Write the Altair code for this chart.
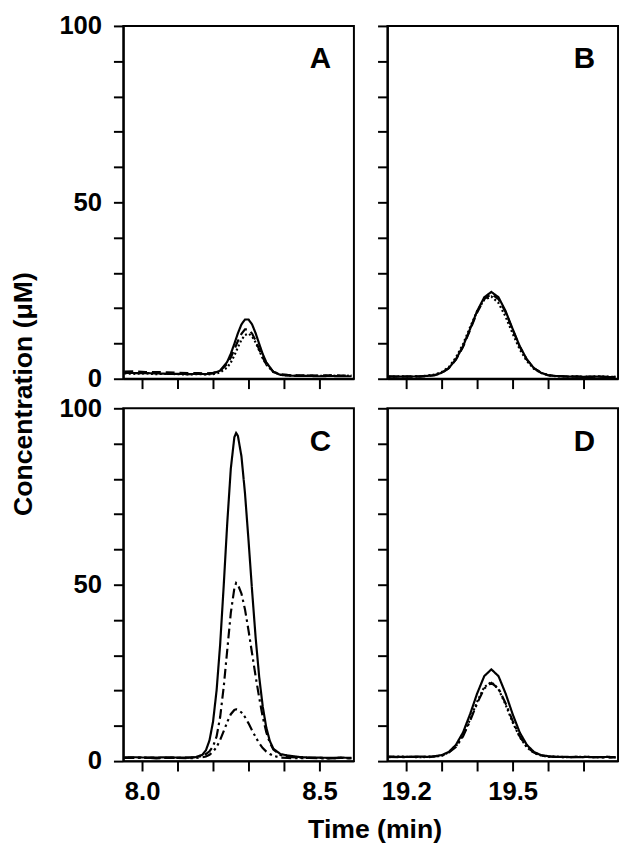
import altair as alt
import pandas as pd

# ---------------- data ----------------
A_time = [7.95, 7.98, 8.01, 8.04, 8.07, 8.10, 8.13, 8.16, 8.18, 8.20, 8.22, 8.24, 8.25, 8.26,
          8.27, 8.28, 8.29, 8.30, 8.31, 8.32, 8.33, 8.34, 8.35, 8.37, 8.39, 8.41, 8.44, 8.47,
          8.50, 8.53, 8.56, 8.59]
A_solid = [1.7, 1.6, 1.6, 1.5, 1.4, 1.4, 1.3, 1.4, 1.3, 1.5, 2.3, 4.8, 7.1, 9.9, 12.9, 15.4,
           16.8, 16.8, 15.4, 12.9, 9.9, 7.0, 4.7, 1.9, 1.1, 0.9, 0.8, 0.8, 0.7, 0.8, 0.7, 0.7]
A_dashed = [2.0, 2.1, 1.9, 1.9, 1.8, 1.7, 1.6, 1.6, 1.5, 1.7, 2.3, 4.2, 6.0, 8.3, 10.7, 12.7,
            14.0, 14.0, 12.8, 10.8, 8.3, 6.0, 4.1, 2.0, 1.3, 1.1, 1.0, 1.0, 0.9, 1.0, 0.9, 0.9]
A_dotted = [1.5, 1.4, 1.5, 1.3, 1.4, 1.3, 1.2, 1.3, 1.2, 1.3, 1.8, 3.2, 4.6, 6.6, 8.9, 11.0,
            12.4, 12.8, 12.0, 10.3, 8.0, 5.8, 4.0, 1.9, 1.2, 0.9, 0.8, 0.9, 0.8, 0.9, 0.8, 0.9]

B_time = [19.15, 19.18, 19.21, 19.24, 19.26, 19.28, 19.30, 19.32, 19.34, 19.36, 19.38, 19.40,
          19.42, 19.44, 19.46, 19.48, 19.50, 19.52, 19.54, 19.56, 19.58, 19.60, 19.62, 19.65,
          19.68, 19.71, 19.74, 19.77, 19.79]
B_solid = [0.6, 0.6, 0.6, 0.7, 0.8, 1.0, 1.7, 3.0, 5.5, 9.2, 14.1, 19.2, 23.1, 24.6, 23.1, 19.2,
           14.1, 9.2, 5.5, 3.0, 1.7, 1.0, 0.8, 0.6, 0.6, 0.5, 0.6, 0.5, 0.5]
B_dashed = [0.7, 0.6, 0.7, 0.6, 0.8, 1.0, 1.6, 3.0, 5.4, 9.0, 13.8, 18.8, 22.6, 24.0, 22.6, 18.9,
            13.9, 9.1, 5.4, 3.0, 1.7, 1.0, 0.8, 0.7, 0.6, 0.6, 0.6, 0.5, 0.6]
B_dotted = [0.5, 0.7, 0.6, 0.7, 0.9, 1.2, 1.9, 3.3, 6.0, 9.8, 14.6, 19.2, 22.4, 23.3, 21.5, 17.6,
            12.8, 8.3, 5.0, 2.8, 1.6, 1.0, 0.7, 0.6, 0.7, 0.5, 0.7, 0.6, 0.5]

C_time = [7.95, 7.98, 8.01, 8.04, 8.07, 8.10, 8.13, 8.15, 8.17, 8.18, 8.19, 8.20, 8.21, 8.22,
          8.23, 8.24, 8.25, 8.26, 8.265, 8.27, 8.28, 8.29, 8.30, 8.31, 8.32, 8.33, 8.34, 8.35,
          8.36, 8.37, 8.39, 8.41, 8.44, 8.47, 8.50, 8.53, 8.56, 8.59]
C_solid = [1.0, 1.1, 1.0, 1.0, 1.1, 1.0, 1.0, 1.1, 1.8, 3.1, 5.9, 11.2, 20.1, 33.1, 49.7, 67.5,
           82.9, 91.8, 93.0, 92.2, 86.4, 75.9, 62.5, 48.3, 35.0, 23.9, 15.5, 9.5, 5.7, 3.5,
           2.0, 1.6, 1.2, 1.0, 1.0, 0.9, 1.0, 0.9]
C_dashdot = [1.0, 1.0, 0.9, 1.0, 0.9, 0.9, 1.0, 1.1, 1.5, 2.0, 2.8, 4.2, 7.0, 12.5, 21.0, 31.5,
             42.0, 49.0, 50.5, 50.0, 47.5, 43.0, 37.0, 30.5, 24.0, 18.0, 12.5, 8.2, 5.2, 3.3,
             1.7, 1.2, 1.0, 0.9, 0.9, 0.8, 0.9, 0.8]
C_dashdotdot = [0.9, 0.9, 1.0, 0.8, 0.9, 0.9, 0.8, 0.9, 1.1, 1.3, 1.8, 2.7, 4.0, 6.0, 8.5, 11.1,
                13.3, 14.5, 14.7, 14.6, 13.8, 12.5, 10.7, 8.7, 6.8, 5.1, 3.7, 2.7, 2.0, 1.5,
                1.0, 0.9, 0.8, 0.9, 0.8, 0.8, 0.9, 0.8]

D_time = [19.15, 19.18, 19.21, 19.24, 19.26, 19.28, 19.30, 19.32, 19.34, 19.36, 19.38, 19.40,
          19.42, 19.44, 19.46, 19.48, 19.50, 19.52, 19.54, 19.56, 19.58, 19.60, 19.62, 19.65,
          19.68, 19.71, 19.74, 19.77, 19.79]
D_solid = [1.3, 1.2, 1.2, 1.3, 1.2, 1.4, 1.7, 2.6, 4.6, 8.1, 13.3, 19.2, 24.1, 26.0, 24.1, 19.2,
           13.3, 8.1, 4.6, 2.6, 1.7, 1.4, 1.2, 1.2, 1.1, 1.2, 1.1, 1.2, 1.1]
D_dashdot = [1.2, 1.1, 1.2, 1.2, 1.1, 1.3, 1.6, 2.4, 4.0, 7.0, 11.4, 16.4, 20.6, 22.2, 20.6, 16.4,
             11.4, 7.0, 4.0, 2.4, 1.6, 1.3, 1.2, 1.1, 1.2, 1.1, 1.1, 1.0, 1.1]
D_dotted = [1.1, 1.3, 1.2, 1.1, 1.3, 1.3, 1.5, 2.5, 4.2, 7.3, 11.8, 16.9, 21.0, 22.4, 20.4, 16.0,
            11.0, 6.8, 3.9, 2.3, 1.6, 1.2, 1.3, 1.1, 1.2, 1.2, 1.1, 1.2, 1.0]

panel_letters = ["A", "B", "C", "D"]
early_domain = [7.947, 8.597]
late_domain = [19.147, 19.797]
early_ticks = [8.0, 8.1, 8.2, 8.3, 8.4, 8.5]
late_ticks = [19.2, 19.3, 19.4, 19.5, 19.6, 19.7]
early_labels = [8.0, 8.5]
late_labels = [19.2, 19.5]
y_ticks = [0, 10, 20, 30, 40, 50, 60, 70, 80, 90, 100]
y_title = "Concentration (μM)"
x_title = "Time (min)"

# ---------------- styling ----------------
FONT = "Liberation Sans"
PW, PH = 234, 358
DASH_NAMES = ["solid", "dashed", "dotted", "dashdot", "dashdotdot"]
DASH_VALUES = [[1, 0], [9, 5], [2, 2.5], [10, 4, 2.5, 4], [10, 4, 2.5, 3.5, 2.5, 4]]


def to_frame(times, series):
    rows = []
    for name, vals in series.items():
        for t, v in zip(times, vals):
            rows.append({"time": t, "conc": v, "series": name})
    return pd.DataFrame(rows)


def panel(df, xdom, xticks, xlabels, letter, show_x, show_y, with_titles=False):
    xexpr = " || ".join(f"abs(datum.value - {v}) < 0.001" for v in xlabels)
    xkw = dict(values=xticks, labels=show_x,
               labelExpr=f"({xexpr}) ? format(datum.value, '.1f') : ''",
               labelFlush=False, labelOverlap=False, labelPadding=8, title=None)
    ykw = dict(values=y_ticks, labels=show_y,
               labelExpr="datum.value % 50 === 0 ? datum.label : ''",
               labelFlush=False, labelOverlap=False, labelPadding=12, title=None)
    if with_titles:
        xkw.update(title=x_title, titleX=255, titleY=70, titleAlign="center",
                   titleBaseline="middle", titleAngle=0)
        ykw.update(title=y_title, titleX=-101, titleY=-15, titleAlign="center",
                   titleBaseline="middle", titleAngle=-90)
    lines = alt.Chart(df).mark_line(color="black", strokeWidth=2.2, clip=True).encode(
        x=alt.X("time:Q", scale=alt.Scale(domain=xdom, nice=False, zero=False), axis=alt.Axis(**xkw)),
        y=alt.Y("conc:Q", scale=alt.Scale(domain=[0, 100], nice=False), axis=alt.Axis(**ykw)),
        strokeDash=alt.StrokeDash("series:N", scale=alt.Scale(domain=DASH_NAMES, range=DASH_VALUES),
                                  legend=None),
    )
    label = alt.Chart(pd.DataFrame({"letter": [letter]})).mark_text(
        font=FONT, fontSize=30, fontWeight="bold", align="center", baseline="alphabetic",
        color="black").encode(x=alt.value(200), y=alt.value(43), text="letter:N")
    return alt.layer(lines, label).properties(width=PW, height=PH)


dfA = to_frame(A_time, {"solid": A_solid, "dashed": A_dashed, "dotted": A_dotted})
dfB = to_frame(B_time, {"solid": B_solid, "dashed": B_dashed, "dotted": B_dotted})
dfC = to_frame(C_time, {"solid": C_solid, "dashdot": C_dashdot, "dashdotdot": C_dashdotdot})
dfD = to_frame(D_time, {"solid": D_solid, "dashdot": D_dashdot, "dotted": D_dotted})

pA = panel(dfA, early_domain, early_ticks, early_labels, panel_letters[0], False, True)
pB = panel(dfB, late_domain, late_ticks, late_labels, panel_letters[1], False, False)
pC = panel(dfC, early_domain, early_ticks, early_labels, panel_letters[2], True, True, with_titles=True)
pD = panel(dfD, late_domain, late_ticks, late_labels, panel_letters[3], True, False)

chart = alt.concat(pA, pB, pC, pD, columns=2, spacing={"row": 30, "column": 34},
                   bounds="flush").properties(
    padding={"left": 0, "top": -2, "right": 1, "bottom": 0},
    background="white",
).configure_view(stroke="black", strokeWidth=2).configure_axis(
    domainColor="black", domainWidth=2, tickColor="black", tickWidth=2, tickSize=10,
    labelFont=FONT, labelFontSize=26, labelFontWeight="bold", labelColor="black",
    titleFont=FONT, titleFontSize=27, titleFontWeight="bold", titleColor="black", grid=False,
)

chart.save("out.html", embed_options={"renderer": "svg", "actions": False})
